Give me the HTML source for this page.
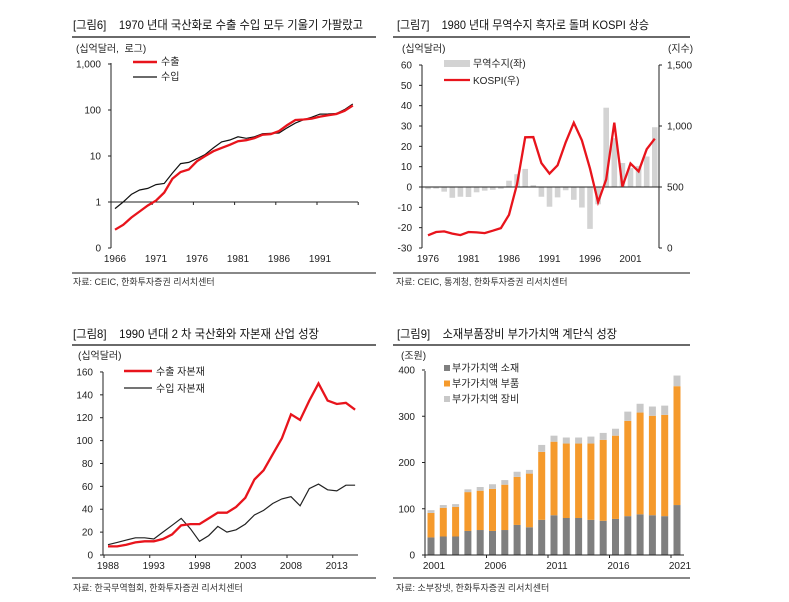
<!DOCTYPE html>
<html><head><meta charset="utf-8">
<style>
body{margin:0;background:#fff;}
svg{display:block;font-family:"Liberation Sans","Noto Sans CJK KR",sans-serif;}
.t{font-size:12px;fill:#111;}
.k{font-size:10px;fill:#222;}
.s{font-size:9px;fill:#333;}
</style></head>
<body>
<svg id="page" width="789" height="602" viewBox="0 0 789 602" xmlns="http://www.w3.org/2000/svg">
<g>
<text class="t" x="73" y="29" textLength="290" lengthAdjust="spacingAndGlyphs">[그림6]&#160;&#160;&#160;&#160;1970 년대 국산화로 수출 수입 모두 기울기 가팔랐고</text>
<line x1="72" y1="37" x2="376" y2="37" stroke="#111" stroke-width="1.3"/>
<line x1="72" y1="273" x2="376" y2="273" stroke="#111" stroke-width="1"/>
<text class="s" x="73" y="285">자료: CEIC, 한화투자증권 리서치센터</text>
<text class="k" x="76" y="52">(십억달러,&#160; 로그)</text>
</g>
<g>
<text class="t" x="397" y="29" textLength="252" lengthAdjust="spacingAndGlyphs">[그림7]&#160;&#160;&#160;&#160;1980 년대 무역수지 흑자로 돌며 KOSPI 상승</text>
<line x1="393" y1="37" x2="690" y2="37" stroke="#111" stroke-width="1.3"/>
<line x1="393" y1="273" x2="690" y2="273" stroke="#111" stroke-width="1"/>
<text class="s" x="396" y="285">자료: CEIC, 통계청, 한화투자증권 리서치센터</text>
<text class="k" x="402" y="52">(십억달러)</text>
<text class="k" x="668" y="52">(지수)</text>
</g>
<g>
<text class="t" x="73" y="338" textLength="246" lengthAdjust="spacingAndGlyphs">[그림8]&#160;&#160;&#160;&#160;1990 년대 2 차 국산화와 자본재 산업 성장</text>
<line x1="72" y1="345" x2="376" y2="345" stroke="#111" stroke-width="1.3"/>
<line x1="72" y1="578" x2="376" y2="578" stroke="#111" stroke-width="1"/>
<text class="s" x="73" y="591">자료: 한국무역협회, 한화투자증권 리서치센터</text>
<text class="k" x="78" y="359">(십억달러)</text>
</g>
<g>
<text class="t" x="397" y="338" textLength="220" lengthAdjust="spacingAndGlyphs">[그림9]&#160;&#160;&#160;&#160;소재부품장비 부가가치액 계단식 성장</text>
<line x1="393" y1="345" x2="690" y2="345" stroke="#111" stroke-width="1.3"/>
<line x1="393" y1="578" x2="690" y2="578" stroke="#111" stroke-width="1"/>
<text class="s" x="396" y="591">자료: 소부장넷, 한화투자증권 리서치센터</text>
<text class="k" x="401" y="359">(조원)</text>
</g>
<g id="g6"></g>
<g id="g7"></g>
<g id="g8"></g>
<g id="g9"></g>
</svg>
<script>
// Fig6 data
const f6Years = [];for(let y=1966;y<=1995;y++)f6Years.push(y);
const f6Exports = [0.25,0.32,0.46,0.62,0.84,1.07,1.6,3.2,4.5,5.1,7.7,10,12.7,15,17.5,21,22,24.4,29,30,34.7,47,60.7,62,65,72,77,82,96,125];
const f6Imports = [0.72,1.0,1.46,1.82,1.98,2.39,2.52,4.24,6.85,7.27,8.77,10.8,14.97,20.3,22.3,26.1,24.3,26.2,30.6,31.1,31.6,41,51.8,61.5,69.8,81.5,81.8,83.8,102,135];
const f6Ticks = ["0","1","10","100","1,000"];
const f6XLabels = [1966,1971,1976,1981,1986,1991];
// Fig7 data
const f7Years = [];for(let y=1976;y<=2004;y++)f7Years.push(y);
const f7Balance = [-1.1,-0.8,-2.3,-5.3,-4.8,-4.9,-2.6,-1.8,-1.4,-0.9,3.1,6.3,8.9,0.9,-4.8,-9.7,-5.1,-1.6,-6.3,-10.1,-20.6,-8.5,39,24,11.8,9.3,10.3,15,29.4];
const f7Kospi = [104,131,136,118,106,131,128,122,142,163,272,525,907,909,696,610,678,866,1027,882,651,376,562,1028,504,693,628,810,896];
const f7LeftTicks = [-30,-20,-10,0,10,20,30,40,50,60];
const f7RightTicks = ["0","500","1,000","1,500"];
const f7XLabels = [1976,1981,1986,1991,1996,2001];
// Fig8 data
const f8Years = [];for(let y=1988;y<=2015;y++)f8Years.push(y);
const f8Exports = [7.5,7.5,9,11,12,12,14,18,26,27,27,32,37,37,42,50,66,74,88,102,123,118,135,150,135,132,133,127];
const f8Imports = [9,11,13,15,15,14,20,26,32,23,12,17,25,20,22,27,35,39,45,49,51,43,58,62,57,56,61,61];
const f8Ticks = [0,20,40,60,80,100,120,140,160];
const f8XLabels = [1988,1993,1998,2003,2008,2013];
// Fig9 data
const f9Years = [];for(let y=2001;y<=2021;y++)f9Years.push(y);
const f9Material = [38,40,40,52,54,52,54,65,60,76,86,80,80,76,74,78,84,88,86,84,108];
const f9Parts = [53,62,64,84,85,91,98,104,116,147,159,161,161,165,175,180,206,220,215,219,257];
const f9Equip = [6,6,6,6,8,10,10,11,8,15,13,13,13,15,15,15,20,19,20,20,23];
const f9Ticks = [0,100,200,300,400];
const f9XLabels = [2001,2006,2011,2016,2021];

const NS="http://www.w3.org/2000/svg";
function mk(parent,tag,attrs,text){const e=document.createElementNS(NS,tag);for(const k in attrs)e.setAttribute(k,attrs[k]);if(text!==undefined)e.textContent=text;parent.appendChild(e);return e;}
function pathFrom(xs,ys){return xs.map((x,i)=>(i?'L':'M')+x.toFixed(1)+','+ys[i].toFixed(1)).join('');}

// ---------- Fig6 ----------
(function(){
const g=document.getElementById('g6');
const x=yr=>115+(yr-1966)*8.2;
const y=v=>202-Math.log10(v)*46;
const ax=mk(g,'line',{x1:111,y1:63,x2:111,y2:248,stroke:'#222'});

f6Ticks.forEach((t,i)=>{const yy=248-i*46;
const tl=mk(g,'text',{class:'k',x:101,y:yy+3.5,'text-anchor':'end'},t);

mk(g,'line',{x1:108,y1:yy,x2:111,y2:yy,stroke:'#222'});});
const xa=mk(g,'line',{x1:111,y1:202,x2:358,y2:202,stroke:'#222'});

for(let i=0;i<=6;i++){const xx=111+i*41.2;mk(g,'line',{x1:xx,y1:202,x2:xx,y2:205,stroke:'#222'});}
f6XLabels.forEach(l=>{const tl=mk(g,'text',{class:'k',x:x(l),y:262,'text-anchor':'middle'},l);
});
const xs=f6Years.map(x);
const p1=mk(g,'path',{d:pathFrom(xs,f6Imports.map(y)),fill:'none',stroke:'#111','stroke-width':1.2});

const p2=mk(g,'path',{d:pathFrom(xs,f6Exports.map(y)),fill:'none',stroke:'#e8141c','stroke-width':2.3});

mk(g,'line',{x1:133,y1:62,x2:157,y2:62,stroke:'#e8141c','stroke-width':2.5});
mk(g,'text',{class:'k',x:161,y:65},'수출');
mk(g,'line',{x1:133,y1:77,x2:157,y2:77,stroke:'#111','stroke-width':1.2});
mk(g,'text',{class:'k',x:161,y:80},'수입');
})();

// ---------- Fig7 ----------
(function(){
const g=document.getElementById('g7');
const x=yr=>428+(yr-1976)*8.1;
const yl=v=>187-v*2.033;
const yr=v=>248-v*0.122;
f7Balance.forEach((v,i)=>{const b=mk(g,'rect',{x:x(f7Years[i])-2.8,y:Math.min(yl(v),187),width:5.6,height:Math.abs(yl(v)-187),fill:'#d3d3d3'});
});
const la=mk(g,'line',{x1:422,y1:65,x2:422,y2:248,stroke:'#222'});

const ra=mk(g,'line',{x1:659,y1:65,x2:659,y2:248,stroke:'#222'});

f7LeftTicks.forEach(t=>{const yy=yl(t);mk(g,'line',{x1:419,y1:yy,x2:422,y2:yy,stroke:'#222'});
const tl=mk(g,'text',{class:'k',x:412,y:yy+3.5,'text-anchor':'end'},t);
});
f7RightTicks.forEach((t,i)=>{const yy=248-i*61;mk(g,'line',{x1:659,y1:yy,x2:662,y2:yy,stroke:'#222'});
const tl=mk(g,'text',{class:'k',x:667,y:yy+3.5},t);
});
const xa=mk(g,'line',{x1:422,y1:187,x2:659,y2:187,stroke:'#222'});

f7XLabels.forEach(l=>{const tl=mk(g,'text',{class:'k',x:x(l),y:262,'text-anchor':'middle'},l);
});
const p=mk(g,'path',{d:pathFrom(f7Years.map(x),f7Kospi.map(yr)),fill:'none',stroke:'#e8141c','stroke-width':2.3});

mk(g,'rect',{x:444,y:60,width:26,height:7,fill:'#d3d3d3'});
mk(g,'text',{class:'k',x:473,y:67},'무역수지(좌)');
mk(g,'line',{x1:444,y1:80,x2:470,y2:80,stroke:'#e8141c','stroke-width':2.3});
mk(g,'text',{class:'k',x:473,y:84},'KOSPI(우)');
})();

// ---------- Fig8 ----------
(function(){
const g=document.getElementById('g8');
const x=yr=>108+(yr-1988)*9.15;
const y=v=>555-v*1.144;
const ax=mk(g,'line',{x1:103,y1:372,x2:103,y2:555,stroke:'#222'});

f8Ticks.forEach(t=>{const yy=y(t);mk(g,'line',{x1:100,y1:yy,x2:103,y2:yy,stroke:'#222'});
const tl=mk(g,'text',{class:'k',x:93,y:yy+3.5,'text-anchor':'end'},t);
});
const xa=mk(g,'line',{x1:103,y1:555,x2:358,y2:555,stroke:'#222'});

f8XLabels.forEach(l=>{mk(g,'line',{x1:x(l)-4,y1:555,x2:x(l)-4,y2:558,stroke:'#222'});
const tl=mk(g,'text',{class:'k',x:x(l),y:569,'text-anchor':'middle'},l);
});
const xs=f8Years.map(x);
const p1=mk(g,'path',{d:pathFrom(xs,f8Imports.map(y)),fill:'none',stroke:'#222','stroke-width':1.2});

const p2=mk(g,'path',{d:pathFrom(xs,f8Exports.map(y)),fill:'none',stroke:'#e8141c','stroke-width':2.3});

mk(g,'line',{x1:124,y1:371,x2:152,y2:371,stroke:'#e8141c','stroke-width':2.5});
mk(g,'text',{class:'k',x:156,y:375},'수출 자본재');
mk(g,'line',{x1:124,y1:388,x2:152,y2:388,stroke:'#222','stroke-width':1.2});
mk(g,'text',{class:'k',x:156,y:392},'수입 자본재');
})();

// ---------- Fig9 ----------
(function(){
const g=document.getElementById('g9');
const x=yr=>431+(yr-2001)*12.3;
const y=v=>555-v*0.4625;
f9Years.forEach((yr,i)=>{let base=0;
[[f9Material,'#7f7f7f','fig9-material-bar'],[f9Parts,'#f59a2c','fig9-parts-bar'],[f9Equip,'#c8c8c8','fig9-equipment-bar']].forEach(s=>{
const v=s[0][i];const r=mk(g,'rect',{x:x(yr)-3.5,y:y(base+v),width:7,height:y(base)-y(base+v),fill:s[1]});
base+=v;});});
const ax=mk(g,'line',{x1:425,y1:371,x2:425,y2:555,stroke:'#222'});

f9Ticks.forEach(t=>{const yy=y(t);mk(g,'line',{x1:422,y1:yy,x2:425,y2:yy,stroke:'#222'});
const tl=mk(g,'text',{class:'k',x:415,y:yy+3.5,'text-anchor':'end'},t);
});
const xa=mk(g,'line',{x1:425,y1:555,x2:684,y2:555,stroke:'#222'});

f9XLabels.forEach(l=>{mk(g,'line',{x1:x(l)-6,y1:555,x2:x(l)-6,y2:558,stroke:'#222'});
const tl=mk(g,'text',{class:'k',x:x(l)+3,y:569,'text-anchor':'middle'},l);
});
[['#7f7f7f','부가가치액 소재','fig9-legend-material'],['#f59a2c','부가가치액 부품','fig9-legend-parts'],['#c8c8c8','부가가치액 장비','fig9-legend-equipment']].forEach((l,i)=>{
mk(g,'rect',{x:444,y:365+i*15.5,width:6,height:6,fill:l[0]});
const t=mk(g,'text',{class:'k',x:452,y:371.5+i*15.5},l[1]);
});
})();
</script>
</body></html>
